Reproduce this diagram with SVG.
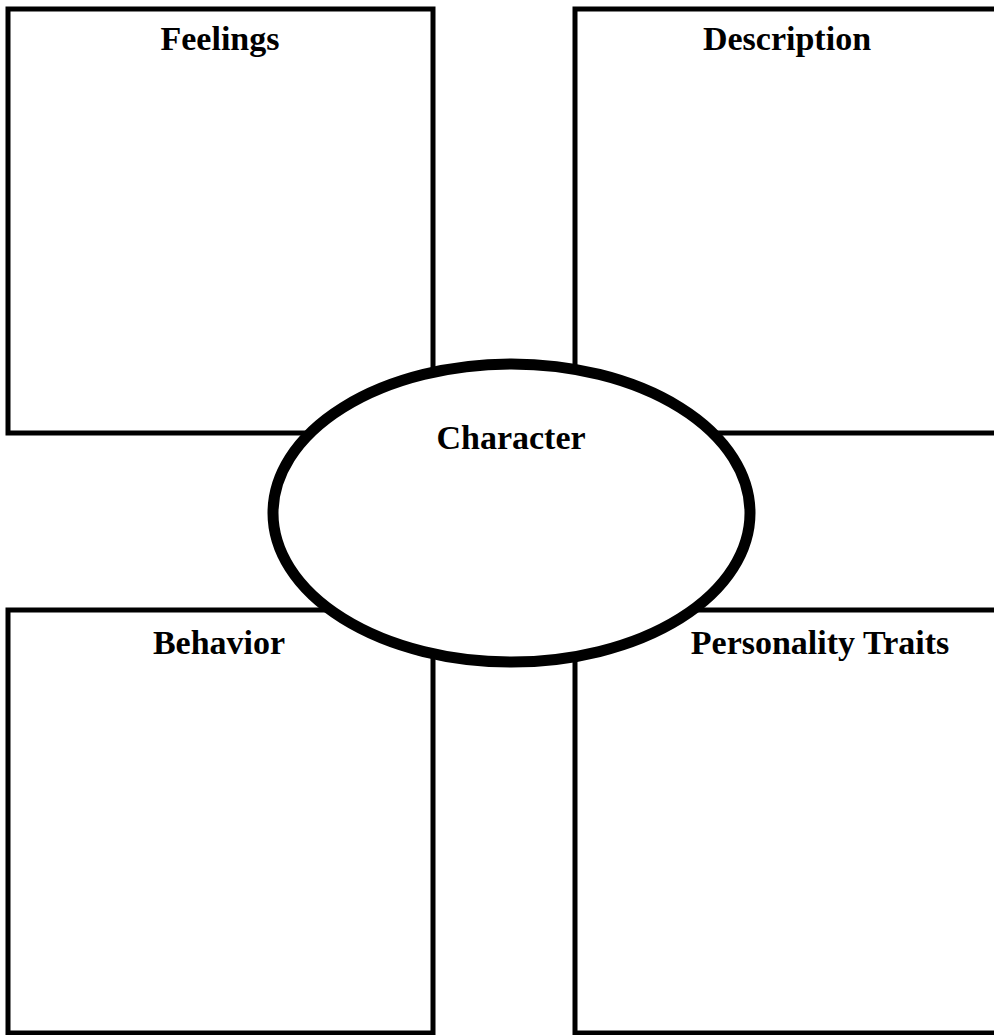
<svg xmlns="http://www.w3.org/2000/svg" width="994" height="1035" viewBox="0 0 994 1035">
<style>
.box{fill:#fff;stroke:#000;stroke-width:5}
.oval{fill:#fff;stroke:#000;stroke-width:11}
.lbl{font-family:"Liberation Serif","Times New Roman",serif;font-weight:bold;font-size:34px;fill:#000;text-anchor:middle}
</style>
<rect width="994" height="1035" fill="#fff"/>
<g id="connectors"></g>
<g id="feelings"><rect class="box" x="8" y="9" width="425" height="424"/><text class="lbl" x="220" y="50">Feelings</text></g>
<g id="description"><rect class="box" x="575" y="9" width="430" height="424"/><text class="lbl" x="787" y="50">Description</text></g>
<g id="behavior"><rect class="box" x="8" y="610" width="425" height="423"/><text class="lbl" x="219" y="654">Behavior</text></g>
<g id="personality"><rect class="box" x="575" y="610" width="430" height="423"/><text class="lbl" x="820" y="654">Personality Traits</text></g>
<g id="character"><ellipse class="oval" cx="511.5" cy="513" rx="238.5" ry="149"/><text class="lbl" x="511" y="449">Character</text></g>
</svg>
